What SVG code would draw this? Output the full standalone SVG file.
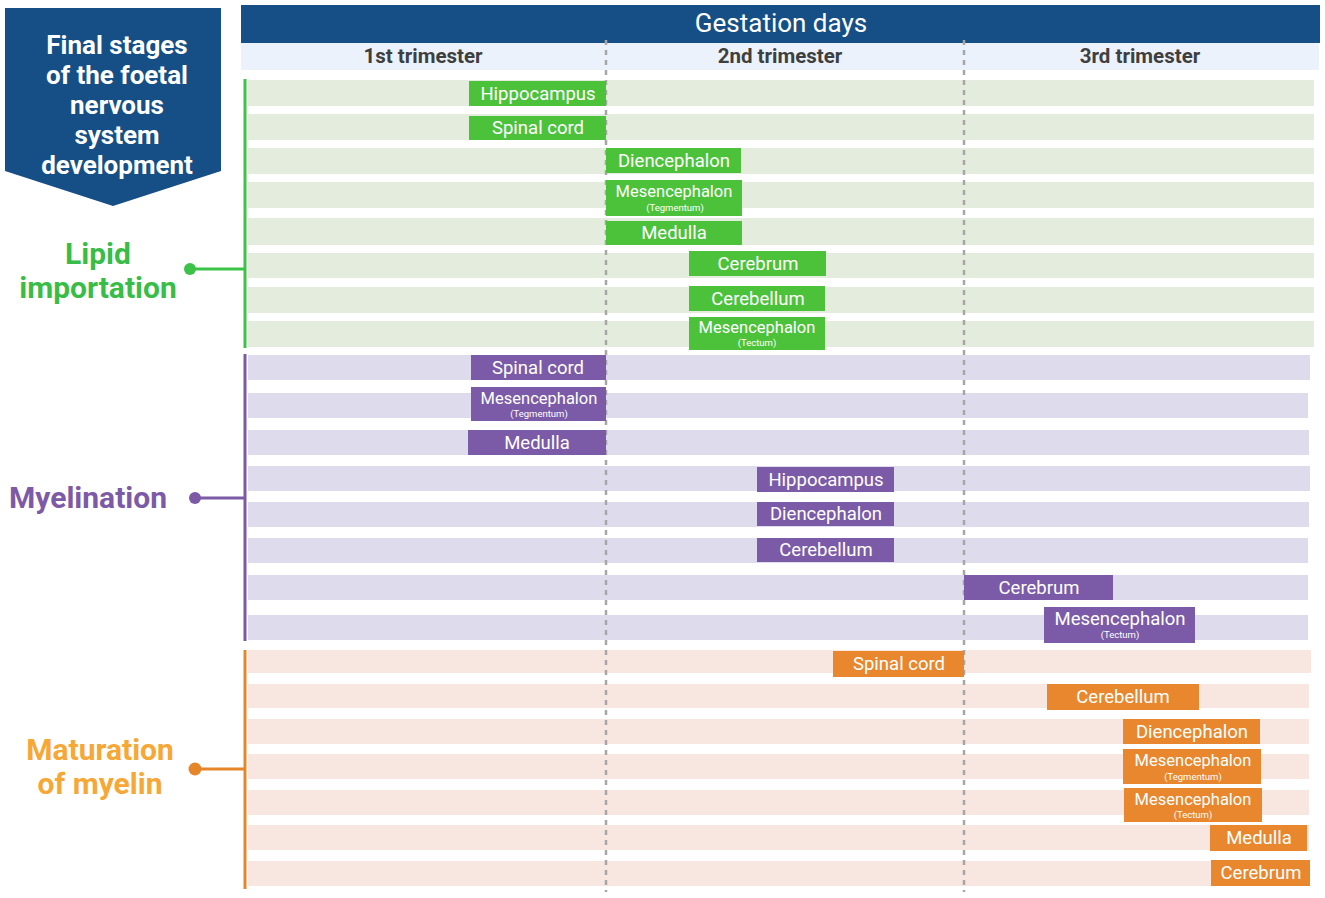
<svg xmlns="http://www.w3.org/2000/svg" width="1325" height="898" viewBox="0 0 1325 898">
<style>
.bg{fill:#ffffff}
.gb{fill:#e4ecdd}
.pb{fill:#dddbec}
.ob{fill:#f8e6e1}
.g{fill:#4cc23b}
.p{fill:#7b5ba7}
.o{fill:#e8872d}
.bl{font-family:Roboto,"Liberation Sans",sans-serif;font-size:18.5px;fill:#ffffff;text-anchor:middle}
.ms{font-family:Roboto,"Liberation Sans",sans-serif;font-size:16.5px;fill:#ffffff;text-anchor:middle}
.sm{font-family:Roboto,"Liberation Sans",sans-serif;font-size:9.5px;fill:#ffffff;text-anchor:middle}
.tri{font-family:Roboto,"Liberation Sans",sans-serif;font-size:20.5px;font-weight:bold;fill:#3f3f3f;text-anchor:middle}
.ban{font-family:Roboto,"Liberation Sans",sans-serif;font-size:26px;font-weight:bold;fill:#ffffff;text-anchor:middle}
.cat{font-family:Roboto,"Liberation Sans",sans-serif;font-size:30px;font-weight:bold;text-anchor:middle}
.dash{stroke:#a6a6a6;stroke-width:2.5;stroke-dasharray:5,5;fill:none}
</style>
<rect class="bg" x="0" y="0" width="1325" height="898"/>
<g id="title">
<polygon points="5,8 221,8 221,171 113,206 5,171" fill="#164f86"/>
<text class="ban" x="117" y="54">Final stages</text>
<text class="ban" x="117" y="84">of the foetal</text>
<text class="ban" x="117" y="114">nervous</text>
<text class="ban" x="117" y="144">system</text>
<text class="ban" x="117" y="174">development</text>
</g>
<g id="header">
<rect x="241" y="5" width="1079" height="38" fill="#164f86"/>
<text x="781" y="32" font-family="Roboto,'Liberation Sans',sans-serif" font-size="26" fill="#ffffff" text-anchor="middle">Gestation days</text>
<rect x="241" y="43" width="1078" height="27" fill="#ebf2fb"/>
<text class="tri" x="423" y="63">1st trimester</text>
<text class="tri" x="780" y="63">2nd trimester</text>
<text class="tri" x="1140" y="63">3rd trimester</text>
</g>
<g id="bands">
<rect class="gb" x="248" y="80" width="1066" height="26"/>
<rect class="gb" x="248" y="114" width="1066" height="26"/>
<rect class="gb" x="248" y="148" width="1066" height="26"/>
<rect class="gb" x="248" y="182" width="1066" height="26"/>
<rect class="gb" x="248" y="218" width="1066" height="27"/>
<rect class="gb" x="248" y="253" width="1066" height="25"/>
<rect class="gb" x="248" y="287" width="1066" height="26"/>
<rect class="gb" x="248" y="321" width="1066" height="26"/>
<rect class="pb" x="248" y="355" width="1062" height="25"/>
<rect class="pb" x="248" y="393" width="1060" height="25"/>
<rect class="pb" x="248" y="430" width="1061" height="25"/>
<rect class="pb" x="248" y="466" width="1062" height="25"/>
<rect class="pb" x="248" y="502" width="1061" height="25"/>
<rect class="pb" x="248" y="538" width="1060" height="25"/>
<rect class="pb" x="248" y="575" width="1060" height="25"/>
<rect class="pb" x="248" y="615" width="1060" height="25"/>
<rect class="ob" x="248" y="650" width="1063" height="23"/>
<rect class="ob" x="248" y="684" width="1061" height="24"/>
<rect class="ob" x="248" y="719" width="1061" height="25"/>
<rect class="ob" x="248" y="754" width="1061" height="25"/>
<rect class="ob" x="248" y="790" width="1061" height="25"/>
<rect class="ob" x="248" y="825" width="1061" height="25"/>
<rect class="ob" x="248" y="861" width="1061" height="25"/>
</g>
<g id="connectors">
<line class="dash" x1="606" y1="40" x2="606" y2="892"/>
<line class="dash" x1="964" y1="40" x2="964" y2="892"/>
<line x1="245" y1="79" x2="245" y2="348" stroke="#3cc247" stroke-width="3"/>
<line x1="190" y1="269" x2="245" y2="269" stroke="#3cc247" stroke-width="3"/>
<circle cx="190" cy="269" r="6" fill="#3cc247"/>
<line x1="245" y1="354" x2="245" y2="641" stroke="#7d5aa6" stroke-width="3"/>
<line x1="195" y1="498" x2="245" y2="498" stroke="#7d5aa6" stroke-width="3"/>
<circle cx="195" cy="498" r="6" fill="#7d5aa6"/>
<line x1="245" y1="650" x2="245" y2="889" stroke="#e6862a" stroke-width="3"/>
<line x1="195" y1="769" x2="245" y2="769" stroke="#e6862a" stroke-width="3"/>
<circle cx="195" cy="769" r="6.5" fill="#e6862a"/>
</g>
<g id="labels">
<text class="cat" x="98" y="264" fill="#38bd48">Lipid</text>
<text class="cat" x="98" y="298" fill="#38bd48">importation</text>
<text class="cat" x="88" y="508" fill="#7d5aa6">Myelination</text>
<text class="cat" x="100" y="760" fill="#f6a735">Maturation</text>
<text class="cat" x="100" y="794" fill="#f6a735">of myelin</text>
</g>
<g id="lipid-bars">
<g id="l-hippocampus"><rect class="g" x="469" y="81" width="137" height="25"/><text class="bl" x="538" y="100">Hippocampus</text></g>
<g id="l-spinal"><rect class="g" x="469" y="116" width="137" height="24"/><text class="bl" x="538" y="134">Spinal cord</text></g>
<g id="l-dien"><rect class="g" x="606" y="148" width="135" height="25"/><text class="bl" x="674" y="167">Diencephalon</text></g>
<g id="l-mesteg"><rect class="g" x="606" y="180" width="136" height="36"/><text class="ms" x="674" y="197">Mesencephalon</text><text class="sm" x="675" y="211">(Tegmentum)</text></g>
<g id="l-medulla"><rect class="g" x="606" y="221" width="136" height="24"/><text class="bl" x="674" y="239">Medulla</text></g>
<g id="l-cerebrum"><rect class="g" x="689" y="251" width="137" height="25"/><text class="bl" x="758" y="270">Cerebrum</text></g>
<g id="l-cerebellum"><rect class="g" x="689" y="286" width="136" height="25"/><text class="bl" x="758" y="305">Cerebellum</text></g>
<g id="l-mestec"><rect class="g" x="689" y="317" width="136" height="33"/><text class="ms" x="757" y="333">Mesencephalon</text><text class="sm" x="757" y="346">(Tectum)</text></g>
</g>
<g id="myelination-bars">
<g id="m-spinal"><rect class="p" x="471" y="355" width="135" height="25"/><text class="bl" x="538" y="374">Spinal cord</text></g>
<g id="m-mesteg"><rect class="p" x="471" y="387" width="135" height="34"/><text class="ms" x="539" y="404">Mesencephalon</text><text class="sm" x="539" y="417">(Tegmentum)</text></g>
<g id="m-medulla"><rect class="p" x="468" y="430" width="138" height="25"/><text class="bl" x="537" y="449">Medulla</text></g>
<g id="m-hippocampus"><rect class="p" x="757" y="467" width="137" height="25"/><text class="bl" x="826" y="486">Hippocampus</text></g>
<g id="m-dien"><rect class="p" x="757" y="502" width="137" height="24"/><text class="bl" x="826" y="520">Diencephalon</text></g>
<g id="m-cerebellum"><rect class="p" x="757" y="538" width="137" height="24"/><text class="bl" x="826" y="556">Cerebellum</text></g>
<g id="m-cerebrum"><rect class="p" x="964" y="575" width="149" height="25"/><text class="bl" x="1039" y="594">Cerebrum</text></g>
<g id="m-mestec"><rect class="p" x="1044" y="607" width="151" height="36"/><text class="bl" x="1120" y="625">Mesencephalon</text><text class="sm" x="1120" y="638">(Tectum)</text></g>
</g>
<g id="maturation-bars">
<g id="o-spinal"><rect class="o" x="833" y="651" width="131" height="26"/><text class="bl" x="899" y="670">Spinal cord</text></g>
<g id="o-cerebellum"><rect class="o" x="1047" y="684" width="152" height="26"/><text class="bl" x="1123" y="703">Cerebellum</text></g>
<g id="o-dien"><rect class="o" x="1123" y="719" width="137" height="25"/><text class="bl" x="1192" y="738">Diencephalon</text></g>
<g id="o-mesteg"><rect class="o" x="1123" y="749" width="138" height="35"/><text class="ms" x="1193" y="766">Mesencephalon</text><text class="sm" x="1193" y="780">(Tegmentum)</text></g>
<g id="o-mestec"><rect class="o" x="1124" y="788" width="138" height="34"/><text class="ms" x="1193" y="805">Mesencephalon</text><text class="sm" x="1193" y="818">(Tectum)</text></g>
<g id="o-medulla"><rect class="o" x="1210" y="825" width="97" height="26"/><text class="bl" x="1259" y="844">Medulla</text></g>
<g id="o-cerebrum"><rect class="o" x="1211" y="860" width="99" height="26"/><text class="bl" x="1261" y="879">Cerebrum</text></g>
</g>
</svg>
